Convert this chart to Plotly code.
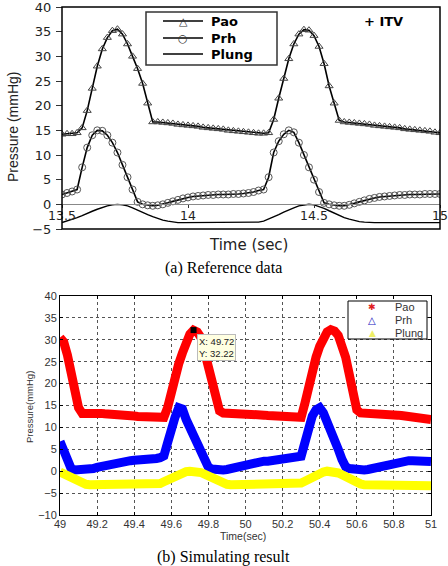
import plotly.graph_objects as go

# ---------------- data: (a) reference data ----------------
t_top = [13.50, 13.52, 13.54, 13.56, 13.58, 13.60, 13.62, 13.64, 13.66, 13.68,
         13.70, 13.72, 13.74, 13.76, 13.78, 13.80, 13.82, 13.84, 13.86, 13.88,
         13.90, 13.92, 13.94, 13.96, 13.98, 14.00, 14.02, 14.04, 14.06, 14.08,
         14.10, 14.12, 14.14, 14.16, 14.18, 14.20, 14.22, 14.24, 14.26, 14.28,
         14.30, 14.32, 14.34, 14.36, 14.38, 14.40, 14.42, 14.44, 14.46, 14.48,
         14.50, 14.52, 14.54, 14.56, 14.58, 14.60, 14.62, 14.64, 14.66, 14.68,
         14.70, 14.72, 14.74, 14.76, 14.78, 14.80, 14.82, 14.84, 14.86, 14.88,
         14.90, 14.92, 14.94, 14.96, 14.98, 15.00]

pao_top = [14.2, 14.3, 14.3, 14.5, 15.5, 19.0, 23.5, 28.0, 31.5, 33.8,
           35.2, 35.5, 34.5, 32.5, 30.0, 27.5, 24.5, 20.5, 16.7, 16.7,
           16.6, 16.5, 16.4, 16.2, 16.1, 16.0, 15.9, 15.8, 15.6, 15.5,
           15.4, 15.3, 15.2, 15.0, 14.9, 14.8, 14.7, 14.6, 14.5, 14.4,
           14.4, 14.5, 17.2, 21.5, 25.5, 29.5, 32.5, 34.5, 35.4, 35.3,
           34.2, 32.0, 28.5, 24.0, 20.5, 17.0, 16.7, 16.6, 16.5, 16.4,
           16.3, 16.2, 16.0, 15.9, 15.8, 15.7, 15.6, 15.5, 15.3, 15.2,
           15.1, 15.0, 14.9, 14.8, 14.6, 14.5]

prh_top = [2.0, 2.3, 2.6, 3.0, 7.5, 11.5, 14.0, 15.0, 14.9, 14.0,
           12.5, 10.5, 8.0, 5.5, 3.0, 0.5, 0.0, -0.2, -0.3, -0.2,
           0.0, 0.3, 0.6, 0.9, 1.2, 1.4, 1.6, 1.7, 1.8, 1.9,
           1.9, 2.0, 2.0, 2.0, 2.1, 2.1, 2.2, 2.3, 2.5, 2.8,
           3.0, 5.5, 10.5, 12.8, 14.2, 15.0, 14.6, 12.5, 10.0, 7.5,
           5.0, 2.5, 0.3, 0.0, -0.2, -0.3, -0.3, -0.1, 0.2, 0.5,
           0.8, 1.1, 1.3, 1.5, 1.6, 1.7, 1.8, 1.9, 1.9, 2.0,
           2.0, 2.0, 2.1, 2.1, 2.1, 2.1]

plung_top = [-3.7, -3.4, -3.0, -2.7, -2.3, -1.8, -1.4, -1.0, -0.6, -0.3,
             -0.1, 0.0, -0.1, -0.3, -0.7, -1.2, -1.7, -2.1, -2.5, -2.9,
             -3.2, -3.4, -3.6, -3.7, -3.7, -3.7, -3.7, -3.7, -3.7, -3.7,
             -3.7, -3.7, -3.7, -3.7, -3.7, -3.7, -3.7, -3.7, -3.7, -3.6,
             -3.4, -3.0, -2.6, -2.1, -1.6, -1.1, -0.7, -0.3, -0.1, 0.0,
             -0.1, -0.4, -0.8, -1.3, -1.8, -2.3, -2.7, -3.0, -3.3, -3.5,
             -3.6, -3.7, -3.7, -3.7, -3.7, -3.7, -3.7, -3.7, -3.7, -3.7,
             -3.7, -3.7, -3.7, -3.7, -3.7, -3.7]

# ---------------- data: (b) simulating result ----------------
t_bot = [49.00, 49.02, 49.04, 49.06, 49.08, 49.10, 49.12, 49.14, 49.16, 49.18,
         49.20, 49.22, 49.24, 49.26, 49.28, 49.30, 49.32, 49.34, 49.36, 49.38,
         49.40, 49.42, 49.44, 49.46, 49.48, 49.50, 49.52, 49.54, 49.56, 49.58,
         49.60, 49.62, 49.64, 49.66, 49.68, 49.70, 49.72, 49.74, 49.76, 49.78,
         49.80, 49.82, 49.84, 49.86, 49.88, 49.90, 49.92, 49.94, 49.96, 49.98,
         50.00, 50.02, 50.04, 50.06, 50.08, 50.10, 50.12, 50.14, 50.16, 50.18,
         50.20, 50.22, 50.24, 50.26, 50.28, 50.30, 50.32, 50.34, 50.36, 50.38,
         50.40, 50.42, 50.44, 50.46, 50.48, 50.50, 50.52, 50.54, 50.56, 50.58,
         50.60, 50.62, 50.64, 50.66, 50.68, 50.70, 50.72, 50.74, 50.76, 50.78,
         50.80, 50.82, 50.84, 50.86, 50.88, 50.90, 50.92, 50.94, 50.96, 50.98,
         51.00]

pao_bot = [30.5, 29.5, 26.5, 22.5, 18.5, 14.5, 13.2, 13.3, 13.3, 13.3,
           13.2, 13.2, 13.1, 13.1, 13.0, 13.0, 12.9, 12.8, 12.8, 12.7,
           12.6, 12.5, 12.4, 12.3, 12.2, 12.1, 12.0, 12.0, 12.3, 14.5,
           18.5, 21.5, 24.5, 27.0, 29.5, 31.3, 32.2, 31.8, 30.5, 27.5,
           24.0, 20.5, 17.0, 13.8, 13.3, 13.3, 13.3, 13.2, 13.2, 13.1,
           13.1, 13.0, 13.0, 12.9, 12.8, 12.8, 12.7, 12.6, 12.5, 12.4,
           12.3, 12.2, 12.1, 12.0, 12.0, 12.3, 15.5, 19.5, 22.8, 26.0,
           28.5, 30.5, 31.8, 32.3, 32.0, 31.0, 29.0, 26.0, 22.0, 18.0,
           14.0, 13.3, 13.3, 13.3, 13.2, 13.2, 13.1, 13.1, 13.0, 13.0,
           12.9, 12.8, 12.7, 12.6, 12.5, 12.4, 12.3, 12.2, 12.1, 12.0,
           11.8]

prh_bot = [6.8, 4.5, 1.5, 0.6, 0.3, 0.3, 0.3, 0.3, 0.4, 0.6,
           0.9, 1.1, 1.4, 1.7, 1.9, 2.1, 2.2, 2.3, 2.4, 2.4,
           2.5, 2.5, 2.5, 2.6, 2.7, 2.8, 2.9, 3.1, 3.5, 6.5,
           10.0, 12.3, 14.5, 14.2, 11.8, 10.0, 8.0, 5.8, 3.5, 1.8,
           0.9, 0.5, 0.3, 0.3, 0.3, 0.4, 0.6, 0.9, 1.2, 1.5,
           1.7, 1.9, 2.0, 2.1, 2.2, 2.3, 2.3, 2.4, 2.4, 2.5,
           2.6, 2.7, 2.8, 2.9, 3.1, 3.4, 6.5, 10.2, 12.6, 14.0,
           14.5, 13.3, 11.5, 9.5, 7.3, 5.0, 2.7, 1.0, 0.6, 0.4,
           0.3, 0.3, 0.3, 0.4, 0.6, 0.9, 1.2, 1.5, 1.7, 1.9,
           2.1, 2.2, 2.3, 2.4, 2.4, 2.4, 2.4, 2.4, 2.4, 2.3,
           2.2]

plung_bot = [-0.2, -0.6, -1.1, -1.6, -2.1, -2.5, -2.8, -3.0, -3.1, -3.1,
             -3.1, -3.1, -3.1, -3.1, -3.1, -3.1, -3.1, -3.1, -3.1, -3.1,
             -3.1, -3.1, -3.1, -3.1, -3.1, -3.1, -3.0, -2.8, -2.4, -2.0,
             -1.5, -1.0, -0.6, -0.3, -0.1, 0.0, 0.0, -0.1, -0.3, -0.7,
             -1.1, -1.6, -2.1, -2.5, -2.8, -3.0, -3.1, -3.1, -3.1, -3.1,
             -3.1, -3.1, -3.1, -3.1, -3.1, -3.1, -3.1, -3.1, -3.1, -3.1,
             -3.1, -3.1, -3.1, -3.1, -3.0, -2.7, -2.3, -1.8, -1.3, -0.9,
             -0.5, -0.2, 0.0, 0.0, -0.1, -0.4, -0.8, -1.3, -1.8, -2.3,
             -2.7, -2.9, -3.1, -3.1, -3.1, -3.1, -3.1, -3.1, -3.1, -3.1,
             -3.1, -3.1, -3.1, -3.1, -3.1, -3.1, -3.1, -3.1, -3.1, -3.2,
             -3.3]

cursor_x = [49.72]
cursor_y = [32.22]

series_names = ["Pao", "Prh", "Plung"]
bot_colors = ["#FF0000", "#0000FF", "#FFFF00"]

# ---------------- layout helpers ----------------
W, H = 448, 566
def px(x):
    return x / W
def py(y):
    return 1 - y / H

fig = go.Figure()

# top panel traces
fig.add_trace(go.Scatter(x=t_top, y=pao_top, mode="lines+markers", name=series_names[0],
                         line=dict(color="black", width=1.6),
                         marker=dict(symbol="triangle-up-open", size=7, color="#444",
                                     line=dict(width=1)),
                         xaxis="x", yaxis="y", showlegend=False))
fig.add_trace(go.Scatter(x=t_top, y=prh_top, mode="lines+markers", name=series_names[1],
                         line=dict(color="black", width=1.6),
                         marker=dict(symbol="circle-open", size=7, color="#555",
                                     line=dict(width=1)),
                         xaxis="x", yaxis="y", showlegend=False))
fig.add_trace(go.Scatter(x=t_top, y=plung_top, mode="lines", name=series_names[2],
                         line=dict(color="black", width=1.4),
                         xaxis="x", yaxis="y", showlegend=False))

# bottom panel traces
for yy, nm, col in zip([pao_bot, prh_bot, plung_bot], series_names, bot_colors):
    fig.add_trace(go.Scatter(x=t_bot, y=yy, mode="lines", name=nm,
                             line=dict(color=col, width=9),
                             xaxis="x2", yaxis="y2", showlegend=False))
fig.add_trace(go.Scatter(x=cursor_x, y=cursor_y, mode="markers",
                         marker=dict(symbol="square", size=6, color="black"),
                         xaxis="x2", yaxis="y2", showlegend=False))

# axes geometry
ytop_dom = [py(229), py(7)]
ytop_rng = [-5, 40]
zero_pos = ytop_dom[0] + (0 - ytop_rng[0]) / (ytop_rng[1] - ytop_rng[0]) * (ytop_dom[1] - ytop_dom[0])

top_yfont = dict(family="DejaVu Sans", size=13, color="#222")
top_xfont = dict(family="DejaVu Sans", size=12.5, color="#222")
bot_font = dict(family="Liberation Sans, Arial", size=11, color="#333")

fig.update_layout(
    template="none",
    width=W, height=H,
    margin=dict(l=0, r=0, t=0, b=0, pad=0, autoexpand=False),
    paper_bgcolor="white", plot_bgcolor="white",
    showlegend=False,
    xaxis=dict(domain=[px(62), px(440)], range=[13.5, 15], tick0=13.5, dtick=0.5,
               anchor="free", position=zero_pos, automargin=False,
               ticklabeloverflow="allow",
               showline=True, linecolor="#888", linewidth=1,
               ticks="outside", ticklen=3, tickcolor="#333", ticklabelstandoff=-3,
               showgrid=False, zeroline=False, tickfont=top_xfont),
    yaxis=dict(domain=ytop_dom, range=ytop_rng, dtick=5,
               anchor="free", position=px(62), automargin=False,
               ticklabeloverflow="allow", ticklabelstandoff=2,
               ticks="outside", ticklen=6, tickcolor="#333",
               showline=False, showgrid=False, zeroline=False, tickfont=top_yfont),
    xaxis2=dict(domain=[px(60), px(431)], range=[49, 51], tick0=49, dtick=0.2,
                anchor="y2", automargin=False, ticklabeloverflow="allow",
                showline=True, mirror="ticks", linecolor="black", linewidth=1,
                ticks="inside", ticklen=3, tickcolor="black", ticklabelstandoff=-1,
                showgrid=True, gridcolor="#555", griddash="3px,3px", gridwidth=1,
                zeroline=False, tickfont=bot_font),
    yaxis2=dict(domain=[py(515), py(296)], range=[-10, 40], dtick=5,
                anchor="x2", automargin=False, ticklabeloverflow="allow",
                showline=True, mirror="ticks", linecolor="black", linewidth=1,
                ticks="inside", ticklen=3, tickcolor="black",
                showgrid=True, gridcolor="#555", griddash="3px,3px", gridwidth=1,
                zeroline=False, tickfont=bot_font),
)

shapes = []
# top panel frame
shapes.append(dict(type="rect", xref="x domain", yref="y domain", x0=0, x1=1, y0=0, y1=1,
                   line=dict(color="black", width=1.5), layer="above"))
# top legend box and line samples
shapes.append(dict(type="rect", xref="paper", yref="paper", x0=px(146), x1=px(277),
                   y0=py(65), y1=py(12), line=dict(color="#333", width=1.5),
                   fillcolor="white", layer="above"))
for yl in [21, 38, 54]:
    shapes.append(dict(type="line", xref="paper", yref="paper", x0=px(163), x1=px(203),
                       y0=py(yl), y1=py(yl), line=dict(color="black", width=1.3), layer="above"))
# bottom legend box
shapes.append(dict(type="rect", xref="paper", yref="paper", x0=px(348), x1=px(427),
                   y0=py(339), y1=py(301), line=dict(color="black", width=1),
                   fillcolor="white", layer="above"))
fig.update_layout(shapes=shapes)

ann = []
def A(text, x, y, font, xanchor="center", yanchor="middle", **kw):
    d = dict(text=text, x=x, y=y, xref="paper", yref="paper", showarrow=False,
             xanchor=xanchor, yanchor=yanchor, font=font)
    d.update(kw)
    ann.append(d)

bold = dict(family="DejaVu Sans", size=13, color="black", weight="bold")
# top legend
A("\u25b3", px(183), py(21), dict(family="DejaVu Sans", size=11, color="#333"))
A("\u25cb", px(183), py(38), dict(family="DejaVu Sans", size=11, color="#333"))
for nm, yl in zip(series_names, [21, 38, 54]):
    A(nm, px(209), py(yl), bold, xanchor="left")
A("+ ITV", px(383), py(21), bold)
# top titles
A("Pressure (mmHg)", px(13), py(127), dict(family="Liberation Sans, Arial", size=14, color="#222"),
  textangle=-90)
A("Time (sec)", px(248), py(245), dict(family="DejaVu Sans", size=15, color="#222"))
A("(a) Reference data", px(223.5), py(268), dict(family="Liberation Serif, Times New Roman", size=16, color="black"))

# bottom legend
A("\u2731", px(372), py(307), dict(family="DejaVu Sans", size=9, color="#E02020"))
A("\u25b3", px(372), py(320), dict(family="DejaVu Sans", size=10, color="#2020C0"))
A("\u25b2", px(372), py(333), dict(family="DejaVu Sans", size=9, color="#EEEE66"))
for nm, yl in zip(series_names, [307, 320, 333]):
    A(nm, px(393), py(yl), bot_font, xanchor="left")
# bottom titles
A("Pressure(mmHg)", px(29), py(407), dict(family="Liberation Sans, Arial", size=9.5, color="#333"),
  textangle=-90)
A("Time(sec)", px(243), py(536), dict(family="Liberation Sans, Arial", size=10.5, color="#333"))
A("(b) Simulating result", px(223.5), py(557), dict(family="Liberation Serif, Times New Roman", size=16, color="black"))
# data cursor tip
A(f"X: {cursor_x[0]:.2f}<br>Y: {cursor_y[0]:.2f}", px(197), py(334),
  dict(family="Liberation Sans, Arial", size=9.5, color="#222"),
  xanchor="left", yanchor="top", align="left",
  bgcolor="#FFFFE1", bordercolor="#BBBBBB", borderwidth=1, borderpad=1)

fig.update_layout(annotations=ann)

fig.write_html("out.html")
